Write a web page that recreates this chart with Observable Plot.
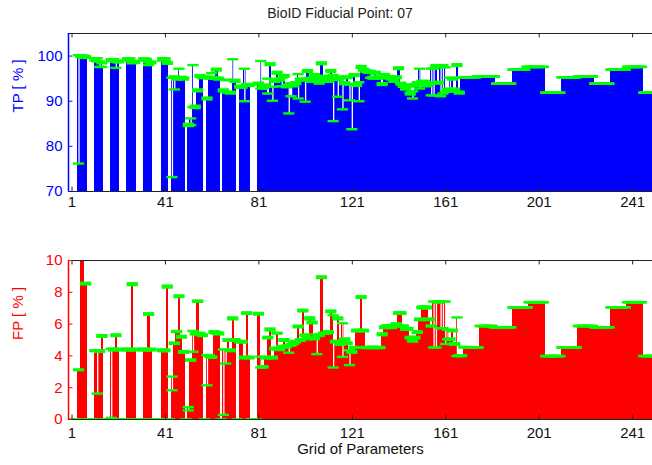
<!DOCTYPE html>
<html><head><meta charset="utf-8">
<script src="https://cdn.jsdelivr.net/npm/d3@7"></script>
<script src="https://cdn.jsdelivr.net/npm/@observablehq/plot@0.6"></script>
<style>
body{margin:0;background:#fff;font-family:"Liberation Sans",Arial,Helvetica,sans-serif;}
#wrap{width:652px;height:465px;position:relative;overflow:hidden;background:#fff}
#title{position:absolute;left:340px;top:5px;transform:translateX(-50%);font-size:14px;color:#222;white-space:nowrap}
#top{position:absolute;left:0;top:24px}
#bot{position:absolute;left:0;top:224px}
</style></head><body>
<div id="wrap"><div id="title">BioID Fiducial Point: 07</div><div id="top"></div><div id="bot"></div></div>
<script>
// ---------- data (grid index 1..250) ----------
const gridIndex = d3.range(1, 251);
const xTicks = [1, 41, 81, 121, 161, 201, 241];
const tpTicks = [70, 80, 90, 100];
const fpTicks = [0, 2, 4, 6, 8, 10];

const tpMean = [
0,0,0,99.8,100,99.9,99.8,0,0,0,
99.2,99.0,98.5,98.2,0,0,0,99.1,99.2,98.5,
98.8,0,0,0,99.3,99.2,98.6,98.7,0,0,
0,99.3,99.2,98.4,98.6,0,0,0,0,99.2,
99.3,98.5,0,95.0,95.2,95.0,97.0,95.2,95.0,0,
84.7,86.0,97.8,88.7,92.4,95.6,95.3,0,90.6,95.2,
95.4,95.2,97.0,95.0,0,92.4,92.4,92.0,91.9,99.1,
94.5,0,93.2,93.2,97.0,93.6,93.6,0,0,0,
93.9,98.7,93.0,93.5,92.0,98.2,93.0,94.5,96.3,94.8,
95.0,95.6,93.3,93.5,91.3,93.5,94.0,95.8,94.8,94.8,
94.5,96.7,95.0,94.5,95.8,95.4,94.1,98.4,95.0,95.4,
94.5,96.7,95.5,95.0,94.5,95.3,95.0,94.0,95.3,93.5,
93.6,95.8,93.6,94.0,97.6,97.0,96.7,96.5,96.5,95.2,
96.3,95.2,95.3,93.8,95.8,95.3,95.3,95.0,94.5,95.3,
97.3,93.9,93.4,92.8,93.5,91.7,92.0,93.5,94.0,97.0,
94.3,94.3,93.5,94.0,97.0,97.0,97.8,94.1,97.3,97.8,
97.3,92.6,95.0,95.0,92.6,98.0,91.9,95.3,95.3,95.3,
95.3,95.3,95.3,95.3,95.5,95.5,95.5,95.5,95.5,95.5,
95.5,95.5,93.9,93.9,93.9,93.9,93.9,93.9,93.9,97.0,
97.0,97.0,97.0,97.0,97.0,97.6,97.6,97.6,97.6,97.6,
97.6,97.6,97.6,91.9,91.9,91.9,91.9,91.9,91.9,91.9,
95.3,95.3,95.3,95.3,95.3,95.3,95.3,95.5,95.5,95.5,
95.5,95.5,95.5,95.5,93.9,93.9,93.9,93.9,93.9,93.9,
93.9,97.0,97.0,97.0,97.0,97.0,97.0,97.0,97.6,97.6,
97.6,97.6,97.6,97.6,97.6,91.9,91.9,91.9,91.9,91.9];

const tpLo = [
0,0,0,76.2,99.8,99.7,99.6,0,0,0,
99.0,98.8,97.6,97.6,0,0,0,98.9,99.0,97.4,
98.6,0,0,0,99.1,99.0,98.4,98.5,0,0,
0,99.1,99.0,98.0,98.4,0,0,0,0,99.0,
99.1,98.3,0,73.2,92.6,94.8,95.0,95.0,94.8,0,
84.5,84.7,88.7,88.5,92.2,95.4,95.1,0,90.4,95.0,
95.2,95.0,96.8,94.8,0,92.2,92.0,91.9,91.7,94.7,
94.3,0,93.0,93.0,90.0,93.4,93.4,0,0,0,
93.7,92.8,92.8,93.3,91.7,98.0,90.1,94.3,96.1,94.6,
93.3,95.4,93.1,87.3,91.1,93.3,93.8,90.6,94.6,94.6,
89.9,96.5,94.8,94.3,95.6,95.2,93.9,98.2,94.8,95.2,
94.3,96.5,85.6,94.8,91.0,95.1,88.2,93.8,95.1,90.2,
83.8,95.6,93.4,90.0,97.4,96.8,96.5,96.3,95.2,95.0,
96.1,95.0,95.1,93.6,95.6,95.1,95.1,94.8,94.3,95.1,
97.1,93.7,93.2,92.6,93.3,91.5,90.6,93.3,93.8,92.8,
94.1,94.1,93.3,93.8,91.3,91.3,97.6,93.9,91.1,91.7,
92.1,92.4,92.1,94.8,92.4,97.8,91.7,95.3,95.3,95.3,
95.3,95.3,95.3,95.3,95.5,95.5,95.5,95.5,95.5,95.5,
95.5,95.5,93.9,93.9,93.9,93.9,93.9,93.9,93.9,97.0,
97.0,97.0,97.0,97.0,97.0,97.6,97.6,97.6,97.6,97.6,
97.6,97.6,97.6,91.9,91.9,91.9,91.9,91.9,91.9,91.9,
95.3,95.3,95.3,95.3,95.3,95.3,95.3,95.5,95.5,95.5,
95.5,95.5,95.5,95.5,93.9,93.9,93.9,93.9,93.9,93.9,
93.9,97.0,97.0,97.0,97.0,97.0,97.0,97.0,97.6,97.6,
97.6,97.6,97.6,97.6,97.6,91.9,91.9,91.9,91.9,91.9];

const tpHi = [
0,0,0,100.2,100.2,100.1,100.0,0,0,0,
99.5,99.5,98.8,98.4,0,0,0,99.3,99.3,98.7,
99.0,0,0,0,99.5,99.5,98.8,98.9,0,0,
0,99.5,99.4,98.6,98.8,0,0,0,0,99.5,
99.5,98.7,0,95.2,95.5,95.2,97.2,95.4,95.2,0,
85.0,86.2,98.0,89.0,92.6,95.8,95.5,0,90.8,95.4,
96.2,95.4,97.2,95.2,0,92.6,94.7,94.7,92.1,99.3,
94.7,0,93.4,93.4,97.2,93.8,93.8,0,0,0,
94.1,98.9,93.2,93.7,95.0,98.4,93.2,94.7,96.5,95.0,
95.2,95.8,93.5,93.7,94.0,93.7,94.2,96.0,95.0,95.0,
94.7,96.9,95.2,94.7,96.0,95.6,94.3,98.6,95.2,95.6,
94.7,96.9,95.8,95.2,94.7,95.5,95.2,94.2,95.5,93.7,
93.8,96.0,93.8,94.2,97.8,97.2,96.9,96.7,96.7,95.4,
96.5,95.4,95.5,94.0,96.0,95.5,95.5,95.2,94.7,95.5,
97.5,94.1,93.6,93.0,93.7,91.9,92.2,93.7,94.2,97.2,
94.5,94.5,93.7,94.2,97.2,97.2,98.0,94.3,97.5,98.0,
97.5,92.8,95.2,95.2,92.8,98.2,92.1,95.3,95.3,95.3,
95.3,95.3,95.3,95.3,95.5,95.5,95.5,95.5,95.5,95.5,
95.5,95.5,93.9,93.9,93.9,93.9,93.9,93.9,93.9,97.0,
97.0,97.0,97.0,97.0,97.0,97.6,97.6,97.6,97.6,97.6,
97.6,97.6,97.6,91.9,91.9,91.9,91.9,91.9,91.9,91.9,
95.3,95.3,95.3,95.3,95.3,95.3,95.3,95.5,95.5,95.5,
95.5,95.5,95.5,95.5,93.9,93.9,93.9,93.9,93.9,93.9,
93.9,97.0,97.0,97.0,97.0,97.0,97.0,97.0,97.6,97.6,
97.6,97.6,97.6,97.6,97.6,91.9,91.9,91.9,91.9,91.9];

const fpMean = [
0,0,0,3.1,12,12,8.55,0,0,0,
4.3,4.3,4.3,5.25,0,0,0,4.4,4.4,5.3,
4.4,0,0,0,4.4,4.4,8.52,4.4,0,0,
0,4.4,4.4,6.63,4.4,0,0,0,0,4.36,
4.36,8.37,0,2.68,4.79,5.53,7.74,5.21,4.26,0,
0.7,3.73,5.53,5.4,7.43,5.4,5.3,0,4.0,4.0,
3.9,5.5,5.45,5.4,0,4.36,4.36,4.99,4.36,6.37,
5.0,0,4.89,4.89,3.9,6.69,3.9,0,0,0,
6.64,3.9,3.3,3.9,5.15,5.67,3.9,4.47,5.42,4.4,
4.57,5.0,4.6,4.6,4.7,4.8,4.9,5.84,5.0,6.83,
5.3,5.1,6.37,6.1,5.1,5.3,5.3,8.95,5.42,5.42,
5.5,6.8,6.5,4.9,6.37,4.75,6.0,5.05,4.8,4.3,
4.26,4.53,5.59,5.59,7.7,5.59,4.53,4.53,4.53,4.53,
4.53,4.53,4.53,5.37,5.8,5.88,5.88,5.8,5.88,6.0,
6.69,6.69,5.88,5.7,5.7,5.15,4.93,5.15,5.5,6.3,
7.06,7.06,7.06,6.3,5.88,7.38,7.38,7.38,7.38,7.38,
7.38,5.59,5.05,5.59,4.75,6.37,3.99,3.99,4.53,4.53,
4.53,4.53,4.53,4.53,4.53,5.88,5.88,5.88,5.88,5.88,
5.88,5.8,5.8,5.8,5.8,5.8,5.8,5.8,5.8,7.05,
7.05,7.05,7.05,7.05,7.05,7.05,7.38,7.38,7.38,7.38,
7.38,7.38,7.38,3.99,3.99,3.99,3.99,3.99,3.99,3.99,
4.53,4.53,4.53,4.53,4.53,4.53,4.53,5.88,5.88,5.88,
5.88,5.88,5.88,5.88,5.8,5.8,5.8,5.8,5.8,5.8,
5.8,7.05,7.05,7.05,7.05,7.05,7.05,7.05,7.38,7.38,
7.38,7.38,7.38,7.38,7.38,3.99,3.99,3.99,3.99,3.99];

const fpLo = [
0,0,0,3.1,12,12,8.5,0,0,0,
4.3,1.63,4.25,5.2,0,0,0,0.1,4.35,5.25,
4.35,0,0,0,4.35,4.35,8.45,4.35,0,0,
0,4.35,4.35,6.58,4.35,0,0,0,0,4.3,
4.3,8.3,0,1.84,4.75,5.5,7.7,5.15,4.2,0,
0.57,3.7,4.26,5.35,7.4,5.35,5.25,0,2.15,3.95,
3.88,5.45,5.4,5.35,0,0.29,3.52,4.95,4.3,6.3,
4.95,0,4.85,4.85,3.85,6.65,3.85,0,0,0,
6.6,3.27,3.27,3.84,5.1,5.6,3.84,4.4,5.4,4.37,
4.5,4.95,4.55,4.2,4.65,4.75,4.85,5.8,4.95,6.8,
5.25,5.05,6.3,6.05,5.05,4.11,5.25,8.9,5.4,5.4,
5.45,6.75,3.27,4.85,6.3,4.7,3.94,5.0,4.75,3.42,
4.2,4.5,5.55,5.55,7.65,5.55,4.5,4.5,4.5,4.5,
4.5,4.5,4.5,5.3,5.75,5.85,5.85,5.75,5.85,5.95,
6.65,6.65,5.85,5.65,5.65,5.1,4.9,5.1,5.45,6.25,
7.0,7.0,7.0,6.25,5.85,4.53,4.53,7.35,5.74,5.74,
4.75,5.05,5.0,5.55,4.7,3.99,3.99,3.99,4.53,4.53,
4.53,4.53,4.53,4.53,4.53,5.88,5.88,5.88,5.88,5.88,
5.88,5.8,5.8,5.8,5.8,5.8,5.8,5.8,5.8,7.05,
7.05,7.05,7.05,7.05,7.05,7.05,7.38,7.38,7.38,7.38,
7.38,7.38,7.38,3.99,3.99,3.99,3.99,3.99,3.99,3.99,
4.53,4.53,4.53,4.53,4.53,4.53,4.53,5.88,5.88,5.88,
5.88,5.88,5.88,5.88,5.8,5.8,5.8,5.8,5.8,5.8,
5.8,7.05,7.05,7.05,7.05,7.05,7.05,7.05,7.38,7.38,
7.38,7.38,7.38,7.38,7.38,3.99,3.99,3.99,3.99,3.99];

const fpHi = [
0,0,0,3.15,12,12,8.6,0,0,0,
4.35,4.35,4.35,5.3,0,0,0,4.45,4.45,5.35,
4.45,0,0,0,4.45,4.45,8.57,4.45,0,0,
0,4.45,4.45,6.68,4.45,0,0,0,0,4.4,
4.4,8.42,0,2.7,4.84,5.57,7.8,5.26,4.3,0,
0.78,3.78,5.57,5.45,7.48,5.45,5.35,0,4.05,4.05,
3.95,5.55,5.5,5.45,0,4.4,4.4,5.04,4.4,6.42,
5.05,0,4.94,4.94,3.95,6.74,3.95,0,0,0,
6.7,3.95,3.35,3.95,5.2,5.72,3.95,4.52,5.46,4.45,
4.62,5.05,4.65,4.65,4.75,4.85,4.95,5.9,5.05,6.9,
5.35,5.15,6.42,6.15,5.15,5.35,5.35,9.0,5.46,5.46,
5.55,6.85,6.55,4.95,6.42,4.8,6.05,5.1,4.85,4.35,
4.3,4.56,5.64,5.64,7.75,5.64,4.56,4.56,4.56,4.56,
4.56,4.56,4.56,5.42,5.85,5.92,5.92,5.85,5.92,6.05,
6.74,6.74,5.92,5.75,5.75,5.2,4.98,5.2,5.55,6.35,
7.1,7.1,7.1,6.35,5.92,7.42,7.42,7.42,7.42,7.42,
7.42,5.64,5.1,5.64,4.8,6.42,4.04,4.04,4.56,4.56,
4.53,4.53,4.53,4.53,4.53,5.88,5.88,5.88,5.88,5.88,
5.88,5.8,5.8,5.8,5.8,5.8,5.8,5.8,5.8,7.05,
7.05,7.05,7.05,7.05,7.05,7.05,7.38,7.38,7.38,7.38,
7.38,7.38,7.38,3.99,3.99,3.99,3.99,3.99,3.99,3.99,
4.53,4.53,4.53,4.53,4.53,4.53,4.53,5.88,5.88,5.88,
5.88,5.88,5.88,5.88,5.8,5.8,5.8,5.8,5.8,5.8,
5.8,7.05,7.05,7.05,7.05,7.05,7.05,7.05,7.38,7.38,
7.38,7.38,7.38,7.38,7.38,3.99,3.99,3.99,3.99,3.99];

// ---------- drawing ----------
const xDomain = [-0.5, 249.5];
const FONT = '"Liberation Sans", Arial, Helvetica, sans-serif';

function panel({vals, lo, hi, yDomain, yTicks, color, label, height, marginTop, marginBottom, xPad, xLabel}) {
  const data = gridIndex.map((g, k) => ({i: g, m: vals[k], lo: lo[k], hi: hi[k]}));
  const [x0, x1] = xDomain, [y0, y1] = yDomain;
  const ty = (y1 - y0) * 0.028;   // inward x tick length
  const tx = 1.9;                  // inward y tick length
  const cap = 2.4;
  const marks = [
    Plot.rectY(data, {x1: d => d.i - 0.5, x2: d => d.i + 0.5, y1: 0, y2: "m", fill: color, clip: true, shapeRendering: "crispEdges"}),
    Plot.ruleX(data, {x: "i", y1: "lo", y2: "hi", stroke: "white", strokeWidth: 1.3, clip: true}),
    Plot.ruleY(data, {y: "lo", x1: d => d.i - cap, x2: d => d.i + cap, stroke: "#00ff00", strokeWidth: 2.4, clip: true}),
    Plot.ruleY(data, {y: "hi", x1: d => d.i - cap, x2: d => d.i + cap, stroke: "#00ff00", strokeWidth: 2.4, clip: true}),
    Plot.ruleY([y0], {stroke: "#222", strokeWidth: 1.2}),
    Plot.ruleY([y1], {stroke: "#222", strokeWidth: 1.2}),
    Plot.ruleX(xTicks, {x: d => d, y1: y0, y2: y0 + ty, stroke: "#222"}),
    Plot.ruleX(xTicks, {x: d => d, y1: y1, y2: y1 - ty, stroke: "#222"}),
    Plot.ruleY(yTicks, {y: d => d, x1: x0, x2: x0 + tx, stroke: color}),
    Plot.ruleX([x0], {stroke: color, strokeWidth: 1.5}),
    Plot.axisY({ticks: yTicks, tickSize: 0, tickPadding: 6, fill: color, fontSize: 15, label: null}),
    Plot.axisX({ticks: xTicks, tickSize: 0, tickPadding: xPad, fill: "#111", fontSize: 15, label: null}),
    Plot.text([label], {text: d => d, frameAnchor: "left", rotate: -90, dx: -50, fill: color, fontSize: 15})
  ];
  if (xLabel) marks.push(Plot.text([xLabel], {text: d => d, frameAnchor: "bottom", dy: 34, fill: "#111", fontSize: 15}));
  return Plot.plot({
    width: 652, height, marginLeft: 68, marginRight: 0, marginTop, marginBottom,
    style: {fontFamily: FONT, fontSize: "15px", background: "transparent", overflow: "visible"},
    x: {domain: xDomain, axis: null},
    y: {domain: yDomain, axis: null},
    marks
  });
}

document.getElementById("top").append(panel({
  vals: tpMean, lo: tpLo, hi: tpHi, yDomain: [70, 105], yTicks: tpTicks,
  color: "#0000ff", label: "TP [ % ]", height: 200, marginTop: 9, marginBottom: 33, xPad: 5
}));
document.getElementById("bot").append(panel({
  vals: fpMean, lo: fpLo, hi: fpHi, yDomain: [0, 10], yTicks: fpTicks,
  color: "#ff0000", label: "FP [ % ]", height: 241, marginTop: 36, marginBottom: 46, xPad: 8,
  xLabel: "Grid of Parameters"
}));
</script>
</body></html>
